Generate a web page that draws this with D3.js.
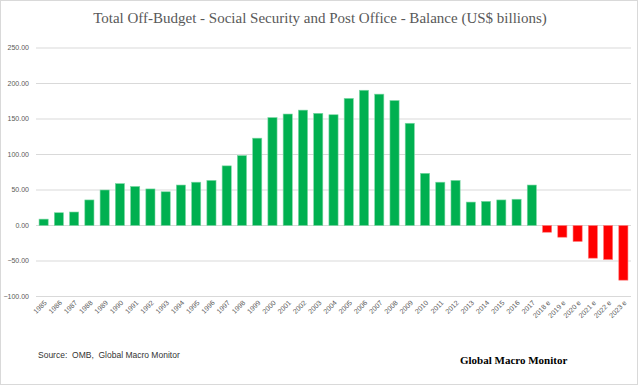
<!DOCTYPE html>
<html lang="en">
<head>
    <meta charset="UTF-8">
    <title>Total Off-Budget Balance</title>
    <script src="https://d3js.org/d3.v7.min.js"></script>
    <style>
        body {
            margin: 0;
            background-color: #ffffff;
        }
        .grid line {
            stroke: #d9d9d9;
            stroke-width: 1px;
        }
        .ylabel, .xlabel {
            font-family: "Liberation Sans", Arial, sans-serif;
            font-size: 7px;
            fill: #595959;
        }
    </style>
</head>
<body>
    <div id="chart"></div>
    <script>
        const years = ["1985", "1986", "1987", "1988", "1989", "1990", "1991", "1992", "1993", "1994",
            "1995", "1996", "1997", "1998", "1999", "2000", "2001", "2002", "2003", "2004",
            "2005", "2006", "2007", "2008", "2009", "2010", "2011", "2012", "2013", "2014",
            "2015", "2016", "2017", "2018 e", "2019 e", "2020 e", "2021 e", "2022 e", "2023 e"];
        const balance = [9, 18, 19, 36, 50, 59, 55, 51.5, 47.5, 57,
            61, 63.5, 84, 98.5, 123, 152, 157, 162.5, 158, 156,
            179, 190.5, 185, 176, 144, 73.5, 61, 63.5, 33, 34,
            36, 37, 57, -9.5, -16.5, -22.5, -46, -48, -77];
        const yTicks = [-100, -50, 0, 50, 100, 150, 200, 250];

        const width = 640, height = 386;
        const plotLeft = 36, plotRight = 631, plotTop = 48, plotBottom = 296.5;

        const svg = d3.select("#chart")
            .append("svg")
            .attr("width", width)
            .attr("height", height);

        // outer chart border
        svg.append("rect")
            .attr("x", 0.5).attr("y", 0.5)
            .attr("width", 637).attr("height", 384)
            .attr("fill", "#ffffff")
            .attr("stroke", "#d9d9d9");

        const x = d3.scaleBand()
            .domain(years)
            .range([plotLeft, plotRight])
            .paddingInner(0.4)
            .paddingOuter(0.2);

        const y = d3.scaleLinear()
            .domain([-100, 250])
            .range([plotBottom, plotTop]);

        // gridlines
        svg.append("g")
            .attr("class", "grid")
            .selectAll("line")
            .data(yTicks)
            .enter().append("line")
            .attr("x1", plotLeft)
            .attr("x2", plotRight)
            .attr("y1", d => y(d))
            .attr("y2", d => y(d));

        // y labels
        svg.append("g")
            .selectAll("text")
            .data(yTicks)
            .enter().append("text")
            .attr("class", "ylabel")
            .attr("x", 29)
            .attr("y", d => y(d))
            .attr("dy", "0.35em")
            .attr("text-anchor", "end")
            .text(d => d3.format(".2f")(d));

        // bars
        svg.append("g")
            .selectAll("rect")
            .data(years.map((yr, i) => ({ year: yr, value: balance[i] })))
            .enter().append("rect")
            .attr("x", d => x(d.year))
            .attr("width", x.bandwidth())
            .attr("y", d => y(Math.max(0, d.value)))
            .attr("height", d => Math.abs(y(d.value) - y(0)))
            .attr("fill", d => d.value >= 0 ? "#00b050" : "#ff0000")
            .attr("stroke", d => d.value >= 0 ? "#7dd8a5" : "#ff7f7f")
            .attr("stroke-width", 0.6);

        // x labels
        svg.append("g")
            .selectAll("text")
            .data(years)
            .enter().append("text")
            .attr("class", "xlabel")
            .attr("text-anchor", "end")
            .attr("transform", d => `translate(${x(d) + x.bandwidth() / 2 + 2},${plotBottom + 5}) rotate(-45)`)
            .attr("dy", "0.35em")
            .text(d => d);

        // title
        svg.append("text")
            .attr("x", 320)
            .attr("y", 23)
            .attr("text-anchor", "middle")
            .attr("font-family", "'Liberation Serif', 'Times New Roman', serif")
            .attr("font-size", "15px")
            .attr("fill", "#595959")
            .text("Total Off-Budget - Social Security and Post Office - Balance (US$ billions)");

        // footer notes
        svg.append("text")
            .attr("x", 38)
            .attr("y", 358)
            .attr("font-family", "'Liberation Sans', Arial, sans-serif")
            .attr("font-size", "8.5px")
            .attr("fill", "#333333")
            .attr("xml:space", "preserve")
            .text("Source:  OMB,  Global Macro Monitor");

        svg.append("text")
            .attr("x", 460)
            .attr("y", 364)
            .attr("font-family", "'Liberation Serif', 'Times New Roman', serif")
            .attr("font-size", "11px")
            .attr("font-weight", "bold")
            .attr("fill", "#000000")
            .text("Global Macro Monitor");
    </script>
</body>
</html>
